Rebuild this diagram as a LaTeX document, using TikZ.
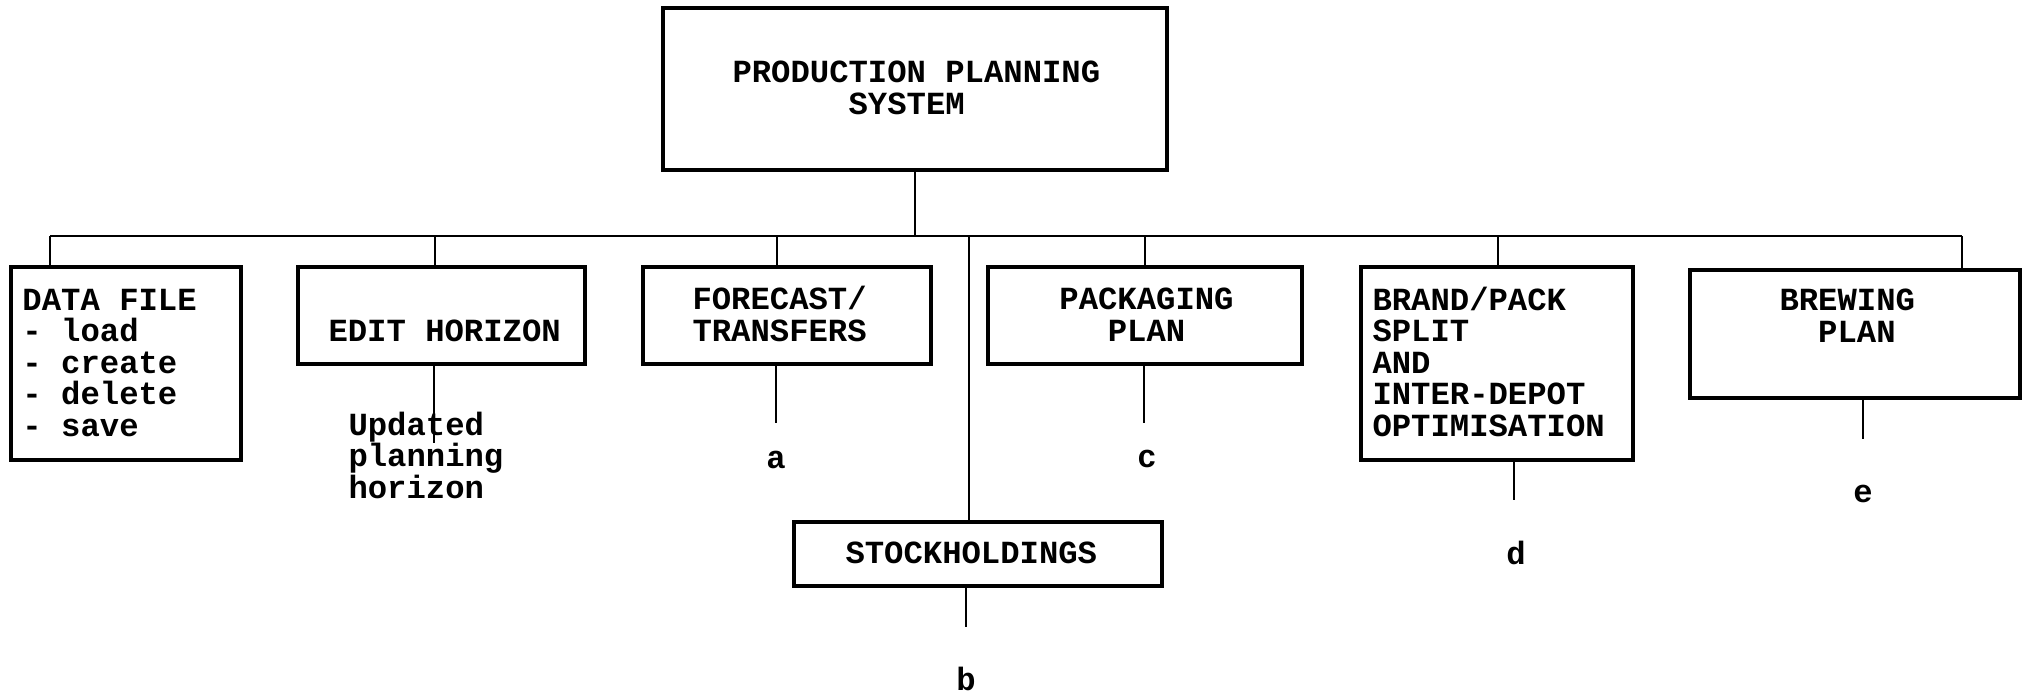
\documentclass[tikz,border=0pt]{standalone}
\usepackage{fontspec}
\setmainfont{Liberation Mono}
\usetikzlibrary{fit}
\begin{document}
\begin{tikzpicture}[x=0.4pt,y=-0.4pt,
  box/.style={draw,line width=1.3pt,inner sep=0pt},
  conn/.style={line width=0.9pt},
  txt/.style={inner sep=0pt,align=left,anchor=base west,font=\fontsize{12.9}{12.6}\selectfont\bfseries},
  ctxt/.style={txt,align=center,anchor=base},
  lbl/.style={inner sep=0pt,anchor=base,font=\fontsize{12.9}{12.6}\selectfont\bfseries}]
\useasboundingbox (0,0) rectangle (2025,695);
% boxes
\node[box,fit={(663,8) (1167,170)}] (top) {};
\node[box,fit={(11,267) (241,460)}] (df) {};
\node[box,fit={(298,267) (585,364)}] (eh) {};
\node[box,fit={(643,267) (931,364)}] (fc) {};
\node[box,fit={(988,267) (1302,364)}] (pk) {};
\node[box,fit={(1361,267) (1633,460)}] (br) {};
\node[box,fit={(1690,270) (2020,398)}] (bw) {};
\node[box,fit={(794,522) (1162,586)}] (st) {};
% texts (anchored at the baseline of the last line)
\node[txt] (topt) at (732,114) {PRODUCTION PLANNING\\\hphantom{PRODUC}SYSTEM};
\node[txt] (dft) at (22,436) {DATA FILE\\- load\\- create\\- delete\\- save};
\node[txt] (eht) at (328,341) {EDIT HORIZON};
\node[txt] (fct) at (692,341) {FORECAST/\\TRANSFERS};
\node[ctxt] (pkt) at (1146.5,341) {PACKAGING\\PLAN};
\node[txt] (brt) at (1372,436) {BRAND/PACK\\SPLIT\\AND\\INTER-DEPOT\\OPTIMISATION};
\node[txt] (bwt) at (1779,342) {BREWING\\\hphantom{BR}PLAN};
\node[txt] (stt) at (845,563) {STOCKHOLDINGS};
\node[txt] (upd) at (348,498) {Updated\\planning\\horizon};
\node[lbl] (la) at (776,468) {a};
\node[lbl] (lc) at (1147,467) {c};
\node[lbl] (lb) at (966,690) {b};
\node[lbl] (ld) at (1516,564) {d};
\node[lbl] (le) at (1863,502) {e};
% bus
\coordinate (b1) at (50,236);
\coordinate (b2) at (435,236);
\coordinate (b3) at (777,236);
\coordinate (b4) at (969,236);
\coordinate (b5) at (1145,236);
\coordinate (b6) at (1498,236);
\coordinate (b7) at (1962,236);
\draw[conn] (b1) -- (b7);
\draw[conn] (top.south) -- (top.south |- b1);
\draw[conn] (b1) -- (b1 |- df.north);
\draw[conn] (b2) -- (b2 |- eh.north);
\draw[conn] (b3) -- (b3 |- fc.north);
\draw[conn] (b4) -- (b4 |- st.north);
\draw[conn] (b5) -- (b5 |- pk.north);
\draw[conn] (b6) -- (b6 |- br.north);
\draw[conn] (b7) -- (b7 |- bw.north);
% outputs
\coordinate (e1) at (434,443);
\coordinate (e2) at (776,423);
\coordinate (e3) at (1144,423);
\coordinate (e4) at (966,627);
\coordinate (e5) at (1514,500);
\coordinate (e6) at (1863,439);
\draw[conn] (e1 |- eh.south) -- (e1);
\draw[conn] (e2 |- fc.south) -- (e2);
\draw[conn] (e3 |- pk.south) -- (e3);
\draw[conn] (e4 |- st.south) -- (e4);
\draw[conn] (e5 |- br.south) -- (e5);
\draw[conn] (e6 |- bw.south) -- (e6);
\end{tikzpicture}
\end{document}
